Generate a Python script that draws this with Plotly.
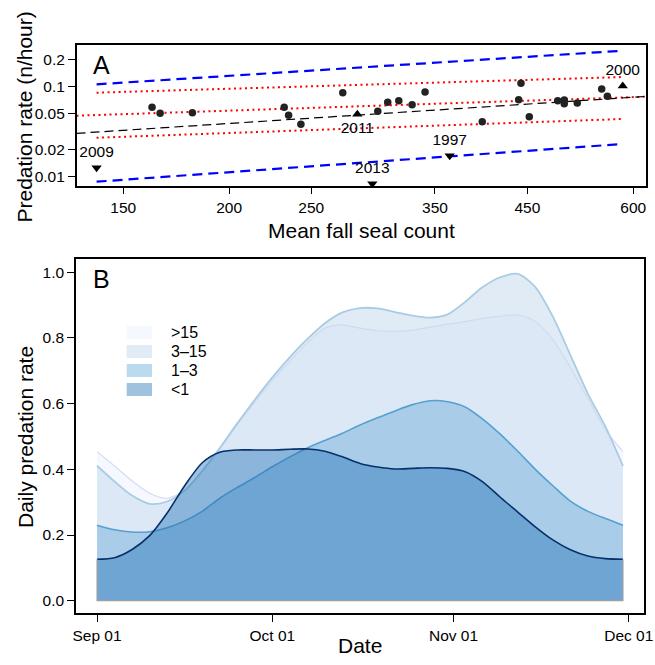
import plotly.graph_objects as go

# ---------------- Panel A data ----------------
seal_count = [162.2, 165.8, 181.0, 232.3, 235.1, 243.1, 272.4, 299.6, 307.8, 317.2, 328.9,
              340.7, 398.0, 439.4, 442.2, 452.3, 488.6, 497.4, 497.4, 515.3, 550.7, 559.2]
pred_rate = [0.059, 0.0506, 0.0514, 0.059, 0.0481, 0.0382, 0.0858, 0.0533, 0.0671, 0.0699, 0.0631,
             0.0873, 0.0408, 0.0717, 0.109, 0.0464, 0.0699, 0.0711, 0.0647, 0.0659, 0.0943, 0.0782]

out_years = ["2009", "2011", "1997", "2013", "2000"]
out_count = [139.5, 283.4, 364.3, 295.2, 583.1]
out_rate = [0.0126, 0.0493, 0.0171, 0.00836, 0.1018]
out_symbol = ["triangle-down", "triangle-up", "triangle-down", "triangle-down", "triangle-up"]
out_textpos = ["top center", "bottom center", "top center", "top center", "top center"]

full_x = [132.1, 621.0]
fit_black = [0.0303, 0.078]
fit_red_mid = [0.0476, 0.0774]
band_x = [139.5, 583.1]
red_upper = [0.0858, 0.128]
red_lower = [0.0271, 0.0438]
blue_upper = [0.1063, 0.251]
blue_lower = [0.0088, 0.0231]

x_ticks_a = [150, 200, 250, 350, 450, 600]
y_ticks_a = [0.01, 0.02, 0.05, 0.1, 0.2]
y_ticktext_a = ["0.01", "0.02", "0.05", "0.1", "0.2"]

# ---------------- Panel B data ----------------
dates = ["2015-09-01", "2015-09-04", "2015-09-07", "2015-09-10", "2015-09-13", "2015-09-16",
         "2015-09-19", "2015-09-22", "2015-09-25", "2015-09-28", "2015-10-01", "2015-10-04",
         "2015-10-07", "2015-10-10", "2015-10-13", "2015-10-16", "2015-10-19", "2015-10-22",
         "2015-10-25", "2015-10-28", "2015-10-31", "2015-11-03", "2015-11-06", "2015-11-09",
         "2015-11-12", "2015-11-15", "2015-11-18", "2015-11-21", "2015-11-24", "2015-11-27",
         "2015-11-30"]
rate_gt15 = [0.454, 0.41, 0.365, 0.327, 0.312, 0.336, 0.392, 0.46, 0.535, 0.605, 0.67, 0.73,
             0.785, 0.83, 0.84, 0.83, 0.822, 0.82, 0.824, 0.833, 0.842, 0.85, 0.86, 0.866,
             0.87, 0.85, 0.795, 0.71, 0.615, 0.52, 0.454]
rate_3_15 = [0.411, 0.363, 0.32, 0.295, 0.302, 0.335, 0.395, 0.465, 0.54, 0.612, 0.68, 0.742,
             0.797, 0.845, 0.878, 0.891, 0.89, 0.879, 0.868, 0.862, 0.872, 0.91, 0.955, 0.985,
             0.995, 0.955, 0.865, 0.748, 0.63, 0.53, 0.41]
rate_1_3 = [0.23, 0.216, 0.209, 0.21, 0.222, 0.243, 0.272, 0.312, 0.345, 0.375, 0.408, 0.438,
            0.465, 0.488, 0.51, 0.535, 0.557, 0.578, 0.597, 0.609, 0.606, 0.59, 0.553, 0.507,
            0.455, 0.4, 0.35, 0.303, 0.272, 0.25, 0.23]
rate_lt1 = [0.126, 0.131, 0.156, 0.198, 0.267, 0.35, 0.42, 0.452, 0.459, 0.459, 0.459, 0.461,
            0.462, 0.455, 0.438, 0.418, 0.407, 0.401, 0.403, 0.405, 0.403, 0.393, 0.362, 0.315,
            0.27, 0.225, 0.185, 0.155, 0.136, 0.128, 0.126]

group_labels = [">15", "3–15", "1–3", "<1"]
group_rates = [rate_gt15, rate_3_15, rate_1_3, rate_lt1]
fill_colors = ["rgba(239,243,255,0.6)", "rgba(198,219,239,0.55)",
               "rgba(107,174,214,0.45)", "rgba(33,113,181,0.43)"]
line_colors = ["rgb(214,220,242)", "rgb(168,204,227)", "rgb(85,160,208)", "#08306B"]
line_widths = [1.2, 1.8, 1.6, 1.6]

x_ticks_b = ["2015-09-01", "2015-10-01", "2015-11-01", "2015-12-01"]
x_ticktext_b = ["Sep 01", "Oct 01", "Nov 01", "Dec 01"]
y_ticks_b = [0.0, 0.2, 0.4, 0.6, 0.8, 1.0]

FONT = "Liberation Sans, Arial, Helvetica, sans-serif"
W, H = 655, 665

fig = go.Figure()

# ---- Panel A traces ----
def add_line(x, y, color, width, dash):
    fig.add_trace(go.Scatter(x=x, y=y, mode="lines", xaxis="x", yaxis="y",
                             line=dict(color=color, width=width, dash=dash),
                             showlegend=False, hoverinfo="skip"))

add_line(band_x, blue_upper, "#0000FF", 2.2, "10px,6px")
add_line(band_x, blue_lower, "#0000FF", 2.2, "10px,6px")
add_line(band_x, red_upper, "#FF0000", 2.0, "2px,3.5px")
add_line(band_x, red_lower, "#FF0000", 2.0, "2px,3.5px")
add_line(full_x, fit_red_mid, "#FF0000", 2.0, "2px,3.5px")
add_line(full_x, fit_black, "#000000", 1.2, "9px,5px")

fig.add_trace(go.Scatter(x=seal_count, y=pred_rate, mode="markers", xaxis="x", yaxis="y",
                         marker=dict(color="#222222", size=7.5), showlegend=False,
                         cliponaxis=False))
fig.add_trace(go.Scatter(x=out_count, y=out_rate, mode="markers+text", xaxis="x", yaxis="y",
                         marker=dict(color="#000000", size=9, symbol=out_symbol),
                         text=out_years, textposition=out_textpos,
                         textfont=dict(size=15.5, color="#000000", family=FONT),
                         showlegend=False, cliponaxis=False))

# ---- Panel B traces ----
for lab, rates, fc, lc, lw in zip(group_labels, group_rates, fill_colors, line_colors, line_widths):
    fig.add_trace(go.Scatter(x=dates, y=rates, mode="lines", xaxis="x2", yaxis="y2",
                             fill="tozeroy", fillcolor=fc,
                             line=dict(color=lc, width=lw, shape="spline", smoothing=0.8),
                             name=lab, showlegend=False))

# grey polygon border (baseline and end edges of lowest area)
fig.add_trace(go.Scatter(x=[dates[0], dates[0], dates[-1], dates[-1]],
                         y=[rate_lt1[0], 0, 0, rate_lt1[-1]], mode="lines",
                         xaxis="x2", yaxis="y2", line=dict(color="rgb(160,160,160)", width=1.2),
                         showlegend=False, hoverinfo="skip"))

# ---- layout ----
def px_x(p):
    return p / W

def px_y(p):
    return 1 - p / H

axis_common = dict(showline=True, mirror=True, linecolor="black", linewidth=1.5,
                   ticks="outside", ticklen=7, tickwidth=1.2, tickcolor="black",
                   showgrid=False, zeroline=False, automargin=False,
                   tickfont=dict(size=15.5, color="black", family=FONT))

fig.update_layout(
    width=W, height=H, autosize=False,
    margin=dict(l=0, r=0, t=0, b=0, pad=0),
    paper_bgcolor="white", plot_bgcolor="white",
    font=dict(family=FONT, color="black"),
    xaxis=dict(type="log", range=[2.1211, 2.7932], domain=[px_x(76.7), px_x(646)],
               anchor="y", tickvals=x_ticks_a, ticktext=[str(v) for v in x_ticks_a],
               **axis_common),
    yaxis=dict(type="log", range=[-2.1, -0.54], domain=[px_y(185.7), px_y(45.3)],
               anchor="x", tickvals=y_ticks_a, ticktext=y_ticktext_a, **axis_common),
    xaxis2=dict(type="date", range=["2015-08-28 09:36", "2015-12-03 14:24"],
                domain=[px_x(76), px_x(644)], anchor="y2",
                tickvals=x_ticks_b, ticktext=x_ticktext_b, **axis_common),
    yaxis2=dict(range=[-0.0384, 1.0405], domain=[px_y(613.3), px_y(259)], anchor="x2",
                tickvals=y_ticks_b, ticktext=["%.1f" % v for v in y_ticks_b], **axis_common),
)

annotations = [
    dict(text="A", x=px_x(101), y=px_y(65), xref="paper", yref="paper",
         showarrow=False, font=dict(size=25, family=FONT), xanchor="center", yanchor="middle"),
    dict(text="B", x=px_x(101), y=px_y(279), xref="paper", yref="paper",
         showarrow=False, font=dict(size=25, family=FONT), xanchor="center", yanchor="middle"),
    dict(text="Mean fall seal count", x=px_x(361), y=px_y(231), xref="paper", yref="paper",
         showarrow=False, font=dict(size=21, family=FONT), xanchor="center", yanchor="middle"),
    dict(text="Predation rate (n/hour)", x=px_x(23.5), y=px_y(117), xref="paper", yref="paper",
         showarrow=False, font=dict(size=21, family=FONT), textangle=-90,
         xanchor="center", yanchor="middle"),
    dict(text="Date", x=px_x(360), y=px_y(645), xref="paper", yref="paper",
         showarrow=False, font=dict(size=21, family=FONT), xanchor="center", yanchor="middle"),
    dict(text="Daily predation rate", x=px_x(25), y=px_y(437), xref="paper", yref="paper",
         showarrow=False, font=dict(size=21, family=FONT), textangle=-90,
         xanchor="center", yanchor="middle"),
]

# manual legend for panel B
shapes = []
legend_top = [326, 345, 364, 383]
for lab, fc, top in zip(group_labels, fill_colors, legend_top):
    shapes.append(dict(type="rect", xref="paper", yref="paper",
                       x0=px_x(126.7), x1=px_x(152), y0=px_y(top + 13), y1=px_y(top),
                       fillcolor=fc, line=dict(width=0)))
    annotations.append(dict(text=lab, x=px_x(169), y=px_y(top + 6.5), xref="paper", yref="paper",
                            showarrow=False, font=dict(size=16, family=FONT),
                            xanchor="left", yanchor="middle"))

fig.update_layout(annotations=annotations, shapes=shapes)

fig.write_html("out.html", config={"displayModeBar": False},
               post_script="document.body.style.margin='0';document.body.style.overflow='hidden';")
